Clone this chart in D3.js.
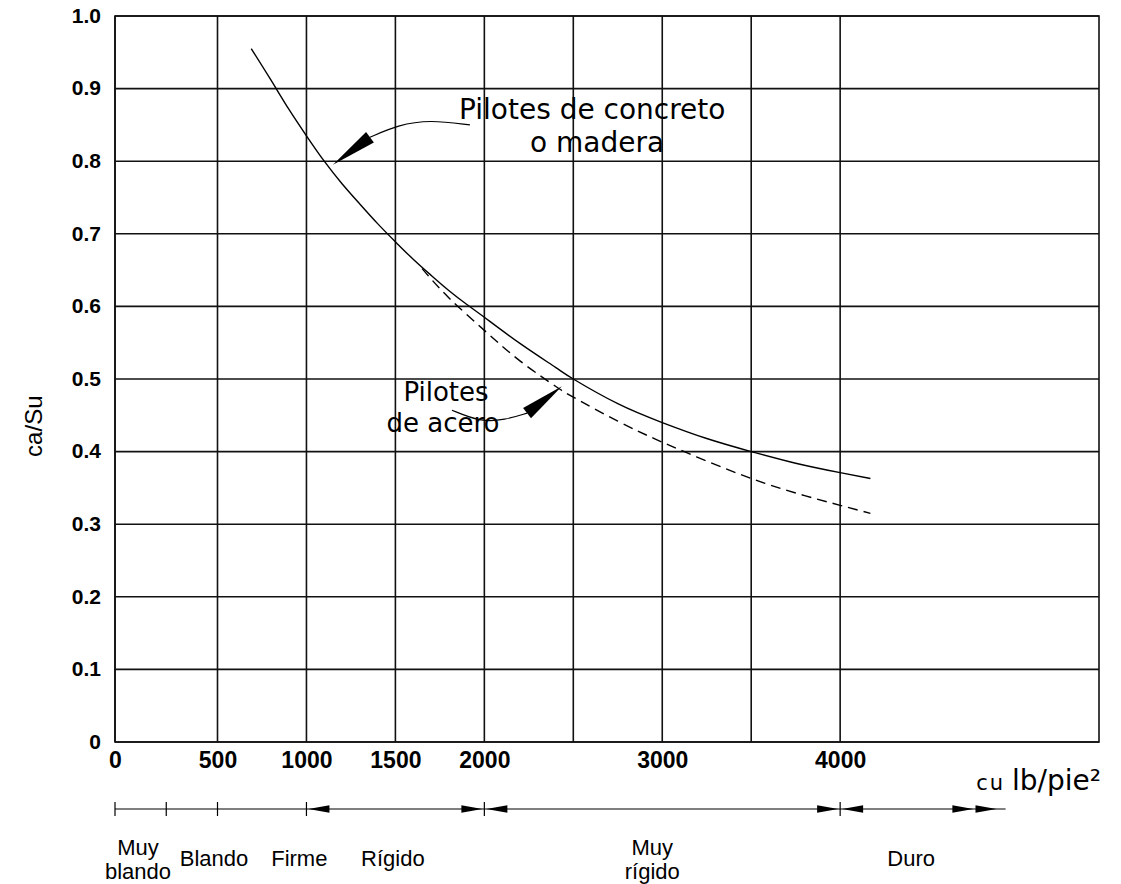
<!DOCTYPE html>
<html>
<head>
<meta charset="utf-8">
<script src="https://cdn.jsdelivr.net/npm/d3@7/dist/d3.min.js"></script>
<style>
  html, body { margin: 0; padding: 0; background: #fff; }
  svg { display: block; }
</style>
</head>
<body>
<svg id="chart" width="1121" height="884"></svg>
<script>
// ---------------- DATA ----------------
// Adhesion factor curves (ca/Su vs cu in lb/pie²)
const concreteCu = [690, 800, 900, 1000, 1100, 1200, 1300, 1400, 1500, 1600, 1700, 1800, 1900, 2000, 2200, 2400, 2500, 2750, 3000, 3250, 3500, 3750, 4000, 4170];
const concreteRatio = [0.955, 0.912, 0.872, 0.835, 0.80, 0.769, 0.741, 0.714, 0.689, 0.665, 0.643, 0.622, 0.603, 0.585, 0.549, 0.516, 0.5, 0.466, 0.44, 0.418, 0.4, 0.384, 0.371, 0.363];

const steelCu = [1650, 1800, 2000, 2200, 2400, 2500, 2750, 3000, 3250, 3500, 3750, 4000, 4170];
const steelRatio = [0.652, 0.612, 0.567, 0.525, 0.49, 0.475, 0.442, 0.413, 0.387, 0.363, 0.343, 0.326, 0.315];

// Axis ticks
const xGridValues = [0, 500, 1000, 1500, 2000, 2500, 3000, 3500, 4000];
const xTickLabels = [0, 500, 1000, 1500, 2000, 3000, 4000];
const yTickValues = [0, 0.1, 0.2, 0.3, 0.4, 0.5, 0.6, 0.7, 0.8, 0.9, 1.0];

// Consistency classes (boundaries in lb/pie²)
const zoneBoundaries = [0, 250, 500, 1000, 2000, 4000];
const zoneEnd = 4930;
const zoneNames = [["Muy", "blando"], ["Blando"], ["Firme"], ["Rígido"], ["Muy", "rígido"], ["Duro"]];
const zoneLabelCu = [112, 483, 960, 1486, 2944, 4399];
// dimension arrowheads on the class bar: [cu at tip, direction]
const zoneArrowTips = [[1000, -1], [2000, 1], [2000, -1], [4000, 1], [4000, -1], [4760, 1], [4890, 1]];

// Annotations (data coordinates)
const concreteLabel = ["Pilotes de concreto", "o madera"];
const concreteLeader = [[1919, 0.850], [1694, 0.857], [1515, 0.850], [1357, 0.833]];
const concreteTip = [1149, 0.795];
const steelLabel = ["Pilotes", "de acero"];
const steelLeader = [[1818, 0.457], [1976, 0.441], [2116, 0.4435], [2240, 0.453]];
const steelTip = [2436, 0.490];

// ---------------- LAYOUT ----------------
const plotL = 115, plotR = 1099, plotT = 16, plotB = 742;
const firstSpan = 102.5;     // px for 0–500 (drawn wider in the original)
const restPerUnit = 0.1779;  // px per lb/pie² beyond 500

const svg = d3.select("#chart");

const x = d3.scaleLinear()
  .domain([0, 500, 4000])
  .range([plotL, plotL + firstSpan, plotL + firstSpan + 3500 * restPerUnit]);
const y = d3.scaleLinear().domain([0, 1]).range([plotB, plotT]);

const numFont = "'Liberation Sans', Arial, sans-serif";
const verdFont = "'DejaVu Sans', Verdana, sans-serif";

// ---------------- GRID ----------------
const grid = svg.append("g").attr("stroke", "#111").attr("stroke-width", 1.6).attr("fill", "none");
grid.selectAll("line.v").data(xGridValues).join("line")
  .attr("x1", d => x(d)).attr("x2", d => x(d))
  .attr("y1", plotT).attr("y2", plotB);
grid.selectAll("line.h").data(yTickValues).join("line")
  .attr("x1", plotL).attr("x2", plotR)
  .attr("y1", d => y(d)).attr("y2", d => y(d));
grid.append("rect").attr("x", plotL).attr("y", plotT)
  .attr("width", plotR - plotL).attr("height", plotB - plotT);

// ---------------- AXIS LABELS ----------------
const yAxis = d3.axisLeft(y).tickValues(yTickValues).tickSize(0).tickPadding(14)
  .tickFormat(d => d === 0 ? "0" : d3.format(".1f")(d));
const gy = svg.append("g").attr("transform", `translate(${plotL},0)`).call(yAxis);
gy.select(".domain").remove();
gy.selectAll("text").attr("font-family", numFont).attr("font-size", 21).attr("font-weight", "bold")
  .attr("fill", "#000").attr("dy", "0.3em");

const xAxis = d3.axisBottom(x).tickValues(xTickLabels).tickSize(0).tickPadding(10)
  .tickFormat(d3.format("d"));
const gx = svg.append("g").attr("transform", `translate(0,${plotB})`).call(xAxis);
gx.select(".domain").remove();
gx.selectAll("text").attr("font-family", numFont).attr("font-size", 23).attr("font-weight", "bold").attr("fill", "#000");

// y title
svg.append("text")
  .attr("transform", `translate(42,${y(0.435)}) rotate(-90)`)
  .attr("text-anchor", "middle")
  .attr("font-family", numFont).attr("font-size", 24)
  .text("ca/Su");

// x unit
const xu = svg.append("text").attr("x", plotR + 2).attr("y", 790)
  .attr("text-anchor", "end").attr("font-family", verdFont);
xu.append("tspan").attr("font-size", 21).attr("letter-spacing", 2).text("cu");
xu.append("tspan").attr("font-size", 28).attr("dx", 7).text("lb/pie²");

// ---------------- CURVES ----------------
const line = d3.line().x(d => x(d[0])).y(d => y(d[1])).curve(d3.curveNatural);
svg.append("path").datum(d3.zip(concreteCu, concreteRatio))
  .attr("d", line).attr("fill", "none").attr("stroke", "#000").attr("stroke-width", 1.4);
svg.append("path").datum(d3.zip(steelCu, steelRatio))
  .attr("d", line).attr("fill", "none").attr("stroke", "#000").attr("stroke-width", 1.4)
  .attr("stroke-dasharray", "10,6");

// ---------------- ANNOTATIONS ----------------
const leader = d3.line().x(d => x(d[0])).y(d => y(d[1])).curve(d3.curveBasis);
function arrowHead(base, tip, halfW) {
  const bx = x(base[0]), by = y(base[1]), tx = x(tip[0]), ty = y(tip[1]);
  const dx = tx - bx, dy = ty - by, len = Math.hypot(dx, dy);
  const nx = -dy / len * halfW, ny = dx / len * halfW;
  return `M${tx},${ty}L${bx + nx},${by + ny}L${bx - nx},${by - ny}Z`;
}
function annotate(pts, tip) {
  svg.append("path").datum(pts).attr("d", leader)
    .attr("fill", "none").attr("stroke", "#000").attr("stroke-width", 1.2);
  svg.append("path").attr("d", arrowHead(pts[pts.length - 1], tip, 6.5)).attr("fill", "#000");
}
annotate(concreteLeader, concreteTip);
annotate(steelLeader, steelTip);

svg.append("text").attr("x", 459).attr("y", 119).attr("font-family", verdFont).attr("font-size", 28)
  .text(concreteLabel[0]);
svg.append("text").attr("x", 597).attr("y", 152).attr("text-anchor", "middle").attr("font-family", verdFont).attr("font-size", 28)
  .text(concreteLabel[1]);
svg.append("text").attr("x", 446).attr("y", 401).attr("text-anchor", "middle").attr("font-family", verdFont).attr("font-size", 26)
  .text(steelLabel[0]);
svg.append("text").attr("x", 443).attr("y", 432).attr("text-anchor", "middle").attr("font-family", verdFont).attr("font-size", 26)
  .text(steelLabel[1]);

// ---------------- CONSISTENCY BAR ----------------
const barY = 809;
const bar = svg.append("g").attr("stroke", "#000").attr("stroke-width", 1.2);
bar.append("line").attr("x1", x(0)).attr("x2", x(zoneEnd)).attr("y1", barY).attr("y2", barY);
bar.selectAll("line.t").data(zoneBoundaries).join("line")
  .attr("x1", d => x(d)).attr("x2", d => x(d)).attr("y1", barY - 7).attr("y2", barY + 7);
svg.append("g").selectAll("path").data(zoneArrowTips).join("path")
  .attr("fill", "#000")
  .attr("d", d => {
    const tx = x(d[0]) - d[1] * 2, L = 21, w = 3.8;
    return `M${tx},${barY}L${tx - d[1] * L},${barY - w}L${tx - d[1] * L},${barY + w}Z`;
  });

const zl = svg.append("g").attr("font-family", numFont).attr("font-size", 22).attr("text-anchor", "middle");
zoneNames.forEach((lines, i) => {
  const t = zl.append("text").attr("x", x(zoneLabelCu[i]))
    .attr("y", lines.length === 1 ? 866 : 855);
  lines.forEach((s, j) => t.append("tspan").attr("x", x(zoneLabelCu[i])).attr("dy", j === 0 ? 0 : 24).text(s));
});
</script>
</body>
</html>
